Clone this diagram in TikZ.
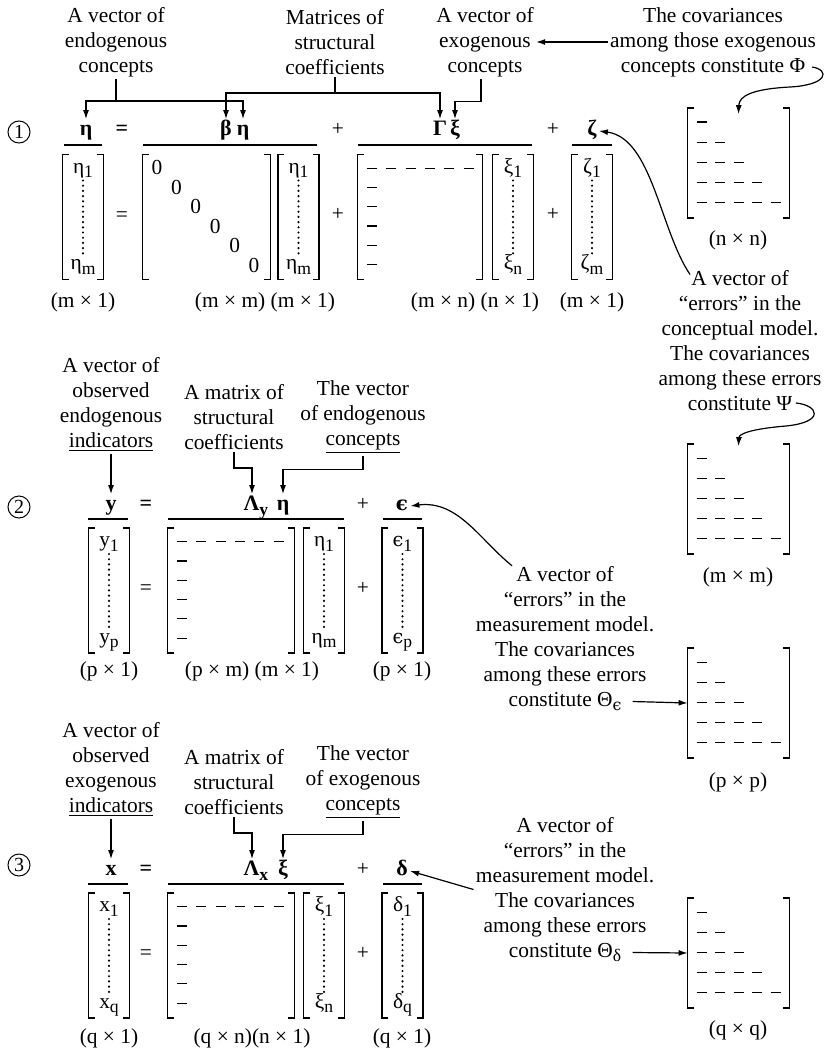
\documentclass[tikz,border=0pt]{standalone}
\usepackage{fontspec}
\setmainfont{Liberation Serif}
\newfontfamily\epsfont[Scale=0.9]{DejaVu Serif}
\usetikzlibrary{positioning,arrows.meta,calc}

\newcommand\sbs[1]{\raisebox{-0.45ex}{\fontsize{8.8}{9}\selectfont #1}}
\newcommand\lunate{{\epsfont ϵ}}

% square brackets round an empty box node
\newcommand\sqbrk[1]{%
  \draw[brak] ([xshift=3pt]#1.north west) -- (#1.north west) -- (#1.south west) -- ([xshift=3pt]#1.south west);
  \draw[brak] ([xshift=-3pt]#1.north east) -- (#1.north east) -- (#1.south east) -- ([xshift=-3pt]#1.south east);}

% column vector: name, x, y, first entry, last entry
\newcommand\colvec[5]{%
  \node[mbox,minimum width=20pt] (#1) at (#2,#3) {};
  \sqbrk{#1}
  \node[ent] (#1top) at ([yshift=-7pt]#1.north) {#4};
  \node[ent] (#1bot) at ([yshift=7pt]#1.south) {#5};
  \draw[dotcol] (#1top.south) -- (#1bot.north);}

% coefficient matrix: first row and first column of dashes
\newcommand\coefdashes[1]{%
  \sqbrk{#1}
  \foreach \c in {0,...,5}
    \draw[dsh] ([shift={(9.5+19.3*\c,13.5)}]#1.north west) -- ++(10,0);
  \foreach \r in {1,...,5}
    \draw[dsh] ([shift={(9.5,13.5+19.3*\r)}]#1.north west) -- ++(10,0);}

% lower triangular covariance matrix
\newcommand\covmat[2]{%
  \node[covbox] (#1) at (#2) {};
  \sqbrk{#1}
  \foreach \r in {1,...,5}
    \foreach \c in {1,...,\r}
      \draw[dsh] ([shift={(9+18.5*\c-18.5,14+20*\r-20)}]#1.north west) -- ++(10,0);}

\tikzset{
    lbl/.style={align=center,font=\fontsize{10.7}{12.5}\selectfont,inner sep=1pt},
    dim/.style={font=\fontsize{10.7}{12.5}\selectfont,inner sep=1pt},
    sym/.style={font=\fontsize{11}{13}\selectfont\bfseries,inner sep=1pt,
        text height=7pt,text depth=2.5pt},
    ent/.style={font=\fontsize{10.7}{12.5}\selectfont,inner sep=1pt,
        text height=7pt,text depth=2.5pt},
    num/.style={circle,draw,line width=0.5pt,inner sep=0pt,minimum size=11pt,
        font=\fontsize{10}{12}\selectfont},
    mbox/.style={inner sep=0pt,minimum height=62pt},
    covbox/.style={inner sep=0pt,minimum width=50.5pt,minimum height=54.5pt},
    brak/.style={line width=0.85pt},
    bar/.style={line width=0.6pt},
    dsh/.style={line width=0.6pt},
    dotcol/.style={line width=1.2pt,line cap=round,dash pattern=on 0pt off 2.6pt},
    ln/.style={line width=0.6pt},
    arr/.style={-{Latex[length=4.5pt,width=3pt]},line width=0.6pt}
}

\begin{document}
\begin{tikzpicture}[x=0.5pt,y=-0.5pt]
\useasboundingbox (0,0) rectangle (825,1054);

% ---- 1: structural model
\node[lbl] (vecendo) at (116,42) {A vector of\\endogenous\\concepts};
\node[lbl] (matcoef) at (335,42) {Matrices of\\structural\\coefficients};
\node[lbl] (vecexo) at (485,42) {A vector of\\exogenous\\concepts};
\node[lbl] (covphi) at (713,42) {The covariances\\among those exogenous\\concepts constitute Φ};

\node[num] (n1) at (19,132) {1};
\node[sym] (eta) at (86,131) {η};
\node[sym] (eqa) at (122,131) {=};
\node[sym] (beta) at (226,131) {β};
\node[sym] (etab) at (243,131) {η};
\node[ent] (pla) at (338,131) {+};
\node[sym] (gam) at (440,131) {Γ};
\node[sym] (xi) at (455,131) {ξ};
\node[ent] (plb) at (553,131) {+};
\node[sym] (zeta) at (592,131) {ζ};
\draw[bar] (64,145) -- (102,145);
\draw[bar] (143,145) -- (317,145);
\draw[bar] (358,145) -- (532,145);
\draw[bar] (572,145) -- (612,145);

\coordinate (jA) at (116,101);
\coordinate (jB) at (335,93);
\draw[ln] (vecendo.south) -- (jA);
\draw[arr] (jA) -| (eta.north);
\draw[arr] (jA) -| (etab.north);
\draw[ln] (matcoef.south) -- (jB);
\draw[arr] (jB) -| (beta.north);
\draw[arr] (jB) -| (gam.north);
\draw[arr] ([xshift=-2pt]vecexo.south) -- ++(0,22) -| (xi.north);
\draw[arr] (covphi.west) -- (vecexo.east);

\colvec{veta}{83}{217}{η\sbs{1}}{η\sbs{m}}
\node[ent] (eqb) at (122,217) {=};
\node[mbox,minimum width=63.5pt] (bmat) at (206.5,217) {};
\sqbrk{bmat}
\foreach \k in {0,...,5}
  \node[ent] (z\k) at (157+19.4*\k,170+19.6*\k) {0};
\colvec{vetab}{298.5}{217}{η\sbs{1}}{η\sbs{m}}
\node[ent] (plc) at (338,216) {+};
\node[mbox,minimum width=62pt] (gmat) at (420,217) {};
\coefdashes{gmat}
\colvec{vxi}{513}{217}{ξ\sbs{1}}{ξ\sbs{n}}
\node[ent] (pld) at (553,216) {+};
\colvec{vzeta}{592}{217}{ζ\sbs{1}}{ζ\sbs{m}}

\node[dim] (d1a) at (83,302) {(m × 1)};
\node[dim] (d1b) at (265,302) {(m × m) (m × 1)};
\node[dim] (d1c) at (475,302) {(m × n) (n × 1)};
\node[dim] (d1d) at (592,302) {(m × 1)};

\covmat{phimat}{738.5,163}
\node[dim] (dphi) at (738,240) {(n × n)};
\draw[arr] ([shift={(-6,25)}]covphi.east) .. controls (830,70) and (828,85) .. (790,87)
    .. controls (752,89) and (739,96) .. ([yshift=-3pt]phimat.north);

\covmat{psimat}{738.5,499}
\node[dim] (dpsi) at (738,577) {(m × m)};
\node[lbl] (errconc) at (740,341) {A vector of\\“errors” in the\\conceptual model.\\The covariances\\among these errors\\constitute Ψ};
\draw[arr] ([shift={(-50,6)}]errconc.north) .. controls (660,230) and (652,138) .. (zeta.east);
\draw[arr] ([shift={(-28,62)}]errconc.east) .. controls (818,405) and (826,422) .. (786,426)
    .. controls (750,429) and (739,434) .. ([yshift=-1pt]psimat.north);

% ---- 2: measurement model, endogenous side
\node[lbl] (obsendo) at (111,404.5) {A vector of\\observed\\endogenous\\\underline{indicators}};
\node[lbl] (matstr2) at (234,417) {A matrix of\\structural\\coefficients};
\node[lbl] (vecendo2) at (363,417) {The vector\\of endogenous\\\underline{concepts}};

\node[num] (n2) at (19,507) {2};
\node[sym] (yv) at (111,506) {y};
\node[sym] (eqc) at (146,506) {=};
\node[sym] (lamy) at (256,506) {Λ\sbs{y}};
\node[sym] (etac) at (283,506) {η};
\node[ent] (ple) at (363,506) {+};
\node[sym] (eps) at (402,506) {\lunate};
\draw[bar] (88,519) -- (128,519);
\draw[bar] (168,519) -- (344,519);
\draw[bar] (383,519) -- (422,519);

\draw[arr] (obsendo.south) -- (yv.north);
\draw[arr] (matstr2.south) -- ++(0,16) -| ([xshift=-2pt]lamy.north);
\draw[arr] (vecendo2.south) -- ++(0,13) -| (etac.north);

\colvec{vy}{109}{590.5}{y\sbs{1}}{y\sbs{p}}
\node[ent] (eqd) at (146,590) {=};
\node[mbox,minimum width=63pt] (lymat) at (231,590.5) {};
\coefdashes{lymat}
\colvec{veta2}{324}{590.5}{η\sbs{1}}{η\sbs{m}}
\node[ent] (plf) at (363,590) {+};
\colvec{veps}{402.5}{590.5}{\lunate\sbs{1}}{\lunate\sbs{p}}

\node[dim] (d2a) at (109,671) {(p × 1)};
\node[dim] (d2b) at (252,671) {(p × m) (m × 1)};
\node[dim] (d2c) at (402,671) {(p × 1)};

\covmat{epsmat}{738.5,703}
\node[dim] (deps) at (738,782) {(p × p)};
\node[lbl] (errmeas) at (565,638.5) {A vector of\\“errors” in the\\measurement model.\\The covariances\\among these errors\\constitute Θ\sbs{\lunate}};
\draw[arr] ([shift={(-53,2)}]errmeas.north) .. controls (480,540) and (458,500) .. (eps.east);
\draw[arr] ([shift={(-24,63)}]errmeas.east) -- (epsmat.west);

% ---- 3: measurement model, exogenous side
\node[lbl] (obsexo) at (111,769.5) {A vector of\\observed\\exogenous\\\underline{indicators}};
\node[lbl] (matstr3) at (234,782) {A matrix of\\structural\\coefficients};
\node[lbl] (vecexo3) at (363,782) {The vector\\of exogenous\\\underline{concepts}};

\node[num] (n3) at (19,865) {3};
\node[sym] (xv) at (111,871) {x};
\node[sym] (eqe) at (146,871) {=};
\node[sym] (lamx) at (256,871) {Λ\sbs{x}};
\node[sym] (xib) at (283,871) {ξ};
\node[ent] (plg) at (363,871) {+};
\node[sym] (delta) at (402,871) {δ};
\draw[bar] (88,884) -- (128,884);
\draw[bar] (168,884) -- (344,884);
\draw[bar] (383,884) -- (422,884);

\draw[arr] (obsexo.south) -- (xv.north);
\draw[arr] (matstr3.south) -- ++(0,16) -| ([xshift=-2pt]lamx.north);
\draw[arr] (vecexo3.south) -- ++(0,13) -| (xib.north);

\colvec{vx}{109}{955.5}{x\sbs{1}}{x\sbs{q}}
\node[ent] (eqf) at (146,955) {=};
\node[mbox,minimum width=63pt] (lxmat) at (231,955.5) {};
\coefdashes{lxmat}
\colvec{vxi2}{324}{955.5}{ξ\sbs{1}}{ξ\sbs{n}}
\node[ent] (plh) at (363,955) {+};
\colvec{vdelta}{402.5}{955.5}{δ\sbs{1}}{δ\sbs{q}}

\node[dim] (d3a) at (109,1038) {(q × 1)};
\node[dim] (d3b) at (252,1038) {(q × n)(n × 1)};
\node[dim] (d3c) at (402,1038) {(q × 1)};

\covmat{deltamat}{738.5,953}
\node[dim] (ddelta) at (738,1030) {(q × q)};
\node[lbl] (errmeasb) at (565,889.5) {A vector of\\“errors” in the\\measurement model.\\The covariances\\among these errors\\constitute Θ\sbs{δ}};
\draw[arr] (errmeasb.west) -- (delta.east);
\draw[arr] ([shift={(-24,63)}]errmeasb.east) -- (deltamat.west);
\end{tikzpicture}
\end{document}
